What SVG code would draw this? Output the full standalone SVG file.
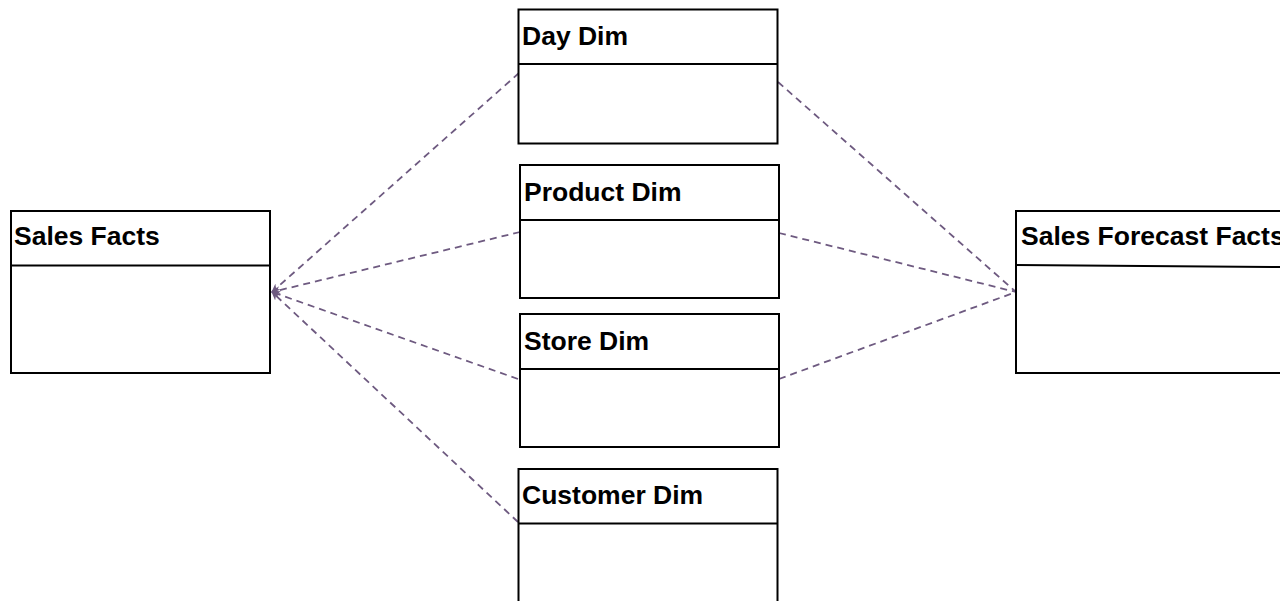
<svg xmlns="http://www.w3.org/2000/svg" width="1280" height="601" viewBox="0 0 1280 601">
<defs>
<style>
.box{fill:#fff;stroke:#000;stroke-width:2}
.sep{stroke:#000;stroke-width:2;fill:none}
.lbl{font-family:"Liberation Sans",Arial,sans-serif;font-weight:bold;font-size:26.5px;fill:#000}
.conn{stroke:#6e5a80;stroke-width:1.8;stroke-dasharray:7 5;fill:none}
</style>
<marker id="arr" viewBox="0 0 10 10" refX="9" refY="5" markerWidth="9" markerHeight="9" orient="auto-start-reverse" markerUnits="userSpaceOnUse">
<path d="M10,5 L0,0.5 L3,5 L0,9.5 Z" fill="#6e5a80"/>
</marker>
</defs>
<rect width="1280" height="601" fill="#fff"/>
<g id="connectors">
<path class="conn" d="M519,73 L272,292" marker-end="url(#arr)"/>
<path class="conn" d="M520,232 L272,292" marker-end="url(#arr)"/>
<path class="conn" d="M518,379 L272,292" marker-end="url(#arr)"/>
<path class="conn" d="M518,522 L272,292" marker-end="url(#arr)"/>
<path class="conn" d="M778,82 L1016,292"/>
<path class="conn" d="M779,233 L1016,292"/>
<path class="conn" d="M779,379 L1016,292"/>
</g>
<g id="sales-facts">
<rect class="box" x="11" y="211" width="259" height="162"/>
<line class="sep" x1="11" y1="265.5" x2="270" y2="265.5"/>
<text class="lbl" x="14" y="245">Sales Facts</text>
</g>
<g id="day-dim">
<rect class="box" x="518.5" y="9.5" width="259" height="134"/>
<line class="sep" x1="518.5" y1="64" x2="777.5" y2="64"/>
<text class="lbl" x="522" y="45">Day Dim</text>
</g>
<g id="product-dim">
<rect class="box" x="520" y="165" width="259" height="133"/>
<line class="sep" x1="520" y1="220" x2="779" y2="220"/>
<text class="lbl" x="524" y="201">Product Dim</text>
</g>
<g id="store-dim">
<rect class="box" x="520" y="314" width="259" height="133"/>
<line class="sep" x1="520" y1="369" x2="779" y2="369"/>
<text class="lbl" x="524" y="350">Store Dim</text>
</g>
<g id="customer-dim">
<rect class="box" x="518.5" y="469" width="259" height="150"/>
<line class="sep" x1="518.5" y1="523.5" x2="777.5" y2="523.5"/>
<text class="lbl" x="522" y="504">Customer Dim</text>
</g>
<g id="sales-forecast-facts">
<rect class="box" x="1016" y="211" width="290" height="162"/>
<line class="sep" x1="1016" y1="265" x2="1280" y2="267"/>
<text class="lbl" x="1021" y="245">Sales Forecast Facts</text>
</g>
</svg>
